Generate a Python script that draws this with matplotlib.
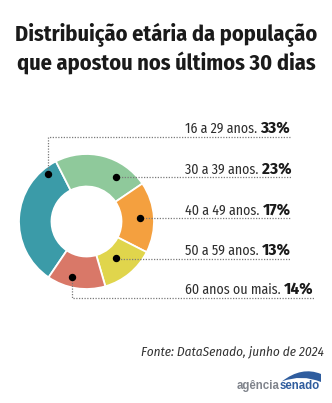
import matplotlib
matplotlib.use("Agg")
import matplotlib.pyplot as plt
import numpy as np
from matplotlib import font_manager as fm
from matplotlib.patches import PathPatch
from matplotlib.path import Path

W, H = 332, 403

categories = ["16 a 29 anos.", "30 a 39 anos.", "40 a 49 anos.", "50 a 59 anos.", "60 anos ou mais."]
shares = [33, 23, 17, 13, 14]
share_labels = ["33%", "23%", "17%", "13%", "14%"]
colors = ["#3b9ba8", "#8fc99b", "#f4a03f", "#e0d54c", "#d97868"]

title_lines = ["Distribuição etária da população", "que apostou nos últimos 30 dias"]
source_text = "Fonte: DataSenado, junho de 2024"

installed = {f.name for f in fm.fontManager.ttflist}
preferred = ["Fira Sans Condensed", "PT Sans Narrow", "Roboto Condensed",
             "Asap Condensed", "Barlow Condensed", "Archivo Narrow"]
narrow = next((n for n in preferred if n in installed), "DejaVu Sans")

fig = plt.figure(figsize=(W / 100, H / 100), dpi=100)
fig.patch.set_facecolor("white")
ax = fig.add_axes([0, 0, 1, 1])


def Y(y):
    return H - y


# donut
cx, cy, R, ring = 86.5, Y(221.5), 67.5, 32.5
ax.pie(shares, colors=colors, startangle=235.8, counterclock=False,
       center=(cx, cy), radius=R, frame=True,
       wedgeprops=dict(width=ring, edgecolor="white", linewidth=1.3))
ax.set_xlim(0, W)
ax.set_ylim(0, H)
ax.set_aspect("equal")
ax.axis("off")

# leader lines and labels: anchor dot given in polar form inside each wedge
dot_angles = [129, 56.7, 3.8, -51.3, -104.7]
dot_radii = [60.7, 53.2, 53.3, 47.2, 57.0]
line_y = [136.5, 177, 218, 258.5, 297.5]
label_x = 185
fig.canvas.draw()
renderer = fig.canvas.get_renderer()
inv = ax.transData.inverted()

for cat, lab, ang, rr, ly in zip(categories, share_labels, dot_angles, dot_radii, line_y):
    t1 = ax.text(label_x, Y(ly) + 3.4, cat + " ", fontsize=10, family=narrow,
                 color="#2e2e2e", ha="left", va="baseline")
    bb = t1.get_window_extent(renderer)
    x_end = inv.transform((bb.x1, bb.y0))[0]
    t2 = ax.text(x_end, Y(ly) + 3.4, lab, fontsize=12.3, family=narrow, weight="bold",
                 color="#1a1a1a", ha="left", va="baseline")
    bb2 = t2.get_window_extent(renderer)
    right = inv.transform((bb2.x1, bb2.y0))[0]
    dx = cx + rr * np.cos(np.radians(ang))
    dy = cy + rr * np.sin(np.radians(ang))
    ax.plot([dx, dx, right], [dy, Y(ly), Y(ly)], color="#7a7a7a", lw=0.9,
            ls=(0, (1, 1.2)), zorder=3)
    ax.plot(dx, dy, "o", color="black", ms=4.3, zorder=4)

# title
for i, line in enumerate(title_lines):
    ax.text(W / 2, Y(41 + 30 * i), line, fontsize=16, family=narrow, weight="bold",
            color="#1a1a1a", ha="center", va="baseline")

# source
ax.text(324, Y(355), source_text, fontsize=9.5, family=narrow, style="italic",
        color="#333333", ha="right", va="baseline")

# logo
logo_base = Y(389)
t_s = ax.text(320, logo_base, "senado", fontsize=8.3, weight="bold", family="Liberation Sans",
              color="#2f5d9e", ha="right", va="baseline")
bbs = t_s.get_window_extent(renderer)
xs0 = inv.transform((bbs.x0, bbs.y0))[0]
ax.text(xs0, logo_base, "agência", fontsize=8.3, weight="bold", family="Liberation Sans",
        color="#80848c", ha="right", va="baseline")
swoosh = Path([(xs0 + 2, Y(381.5)), (xs0 + 22, Y(366)), (321, Y(374)),
               (321, Y(382)), (xs0 + 22, Y(374)), (xs0 + 2, Y(381.5))],
              [Path.MOVETO, Path.CURVE3, Path.CURVE3,
               Path.LINETO, Path.CURVE3, Path.CURVE3])
ax.add_patch(PathPatch(swoosh, fc="#2f5d9e", ec="none"))

fig.savefig("out.png", dpi=100, facecolor="white")
